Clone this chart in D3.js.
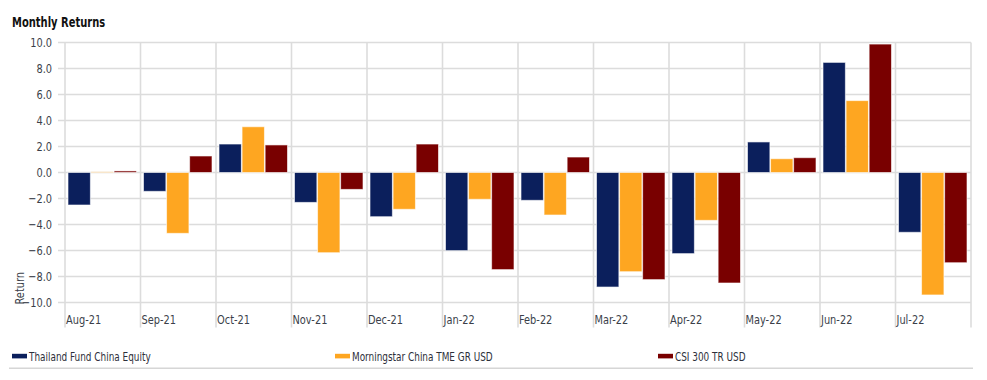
<!DOCTYPE html>
<html>
<head>
<meta charset="utf-8">
<script src="https://cdn.jsdelivr.net/npm/d3@7"></script>
<style>
  body { margin: 0; background: #fff; }
  svg text { font-family: "Liberation Sans Narrow", "DejaVu Sans Condensed", "Roboto Condensed", sans-serif; }
</style>
</head>
<body>
<div id="chart"></div>
<script>
const months = ["Aug-21", "Sep-21", "Oct-21", "Nov-21", "Dec-21", "Jan-22", "Feb-22", "Mar-22", "Apr-22", "May-22", "Jun-22", "Jul-22"];
const seriesNames = ["Thailand Fund China Equity", "Morningstar China TME GR USD", "CSI 300 TR USD"];
const seriesColors = ["#0b1f5c", "#fea621", "#790000"];
const fundValues = [-2.5, -1.45, 2.19, -2.3, -3.4, -6.01, -2.14, -8.81, -6.24, 2.35, 8.47, -4.6];
const benchValues = [0.05, -4.68, 3.52, -6.17, -2.83, -2.06, -3.27, -7.63, -3.68, 1.06, 5.53, -9.42];
const csiValues = [0.12, 1.27, 2.12, -1.3, 2.19, -7.47, 1.19, -8.24, -8.5, 1.14, 9.88, -6.94];
const yTicks = [10, 8, 6, 4, 2, 0, -2, -4, -6, -8, -10];

const width = 987, height = 380;
const margin = { top: 42.5, right: 16, bottom: 77.5, left: 65 };
const innerW = width - margin.left - margin.right;
const innerH = height - margin.top - margin.bottom;
const squeeze = 0.84; // no narrow font installed, so condense text horizontally

const svg = d3.select("#chart").append("svg")
  .attr("width", width)
  .attr("height", height);

svg.append("text")
  .attr("transform", `translate(12,26.5) scale(0.82,1)`)
  .attr("font-size", 13.5).attr("font-weight", "bold")
  .attr("fill", "#111")
  .text("Monthly Returns");

const g = svg.append("g").attr("transform", `translate(${margin.left},${margin.top})`);

const x = d3.scaleBand().domain(months).range([0, innerW]);
const xs = d3.scaleBand().domain(d3.range(3)).range([3, x.bandwidth() - 4]).paddingInner(0.03);
const y = d3.scaleLinear().domain([-10, 10]).range([innerH, 0]);

// horizontal grid + left tick marks
g.append("g").selectAll("line").data(yTicks).join("line")
  .attr("x1", -7).attr("x2", innerW)
  .attr("y1", d => y(d)).attr("y2", d => y(d))
  .attr("stroke", "#dcdcdc").attr("stroke-width", 1.6);

// vertical grid at band boundaries
const bounds = months.map(m => x(m)).concat([innerW]);
g.append("g").selectAll("line").data(bounds).join("line")
  .attr("x1", d => d).attr("x2", d => d)
  .attr("y1", 0).attr("y2", innerH + 25)
  .attr("stroke", "#dcdcdc").attr("stroke-width", 1.6);

// y labels
g.append("g").selectAll("text").data(yTicks).join("text")
  .attr("transform", d => `translate(-13,${y(d)}) scale(${squeeze},1)`)
  .attr("dy", "0.36em")
  .attr("text-anchor", "end")
  .attr("font-size", 13).attr("fill", "#3b3f4a")
  .text(d => d3.format(".1f")(d));

g.append("text")
  .attr("transform", `translate(${-46},${y(-8.9)}) rotate(-90) scale(${squeeze},1)`)
  .attr("text-anchor", "middle")
  .attr("dy", "0.36em")
  .attr("font-size", 13).attr("fill", "#3b3f4a")
  .text("Return");

// x labels
g.append("g").selectAll("text").data(months).join("text")
  .attr("transform", d => `translate(${x(d) + 1},${innerH + 21.5}) scale(${squeeze},1)`)
  .attr("font-size", 13).attr("fill", "#3b3f4a")
  .text(d => d);

// bars
const allSeries = [fundValues, benchValues, csiValues];
allSeries.forEach((vals, si) => {
  g.append("g").selectAll("rect").data(vals).join("rect")
    .attr("x", (d, i) => x(months[i]) + xs(si))
    .attr("width", xs.bandwidth())
    .attr("y", d => y(Math.max(0, d)))
    .attr("height", d => Math.abs(y(d) - y(0)))
    .attr("fill", seriesColors[si])
    .attr("stroke", "#ffffff").attr("stroke-opacity", 0.6).attr("stroke-width", 1);
});

// legend
const legendX = [12, 335, 658];
const lg = svg.append("g");
seriesNames.forEach((name, i) => {
  lg.append("rect")
    .attr("x", legendX[i]).attr("y", 353.8)
    .attr("width", 15).attr("height", 4.6)
    .attr("fill", seriesColors[i]);
  lg.append("text")
    .attr("transform", `translate(${legendX[i] + 17},356.5) scale(0.86,1)`)
    .attr("dy", "0.36em")
    .attr("font-size", 11.5).attr("fill", "#2d2f3a")
    .text(name);
});

svg.append("line")
  .attr("x1", 9).attr("x2", 973)
  .attr("y1", 368.3).attr("y2", 368.3)
  .attr("stroke", "#d6d6d6").attr("stroke-width", 1.5);
</script>
</body>
</html>
